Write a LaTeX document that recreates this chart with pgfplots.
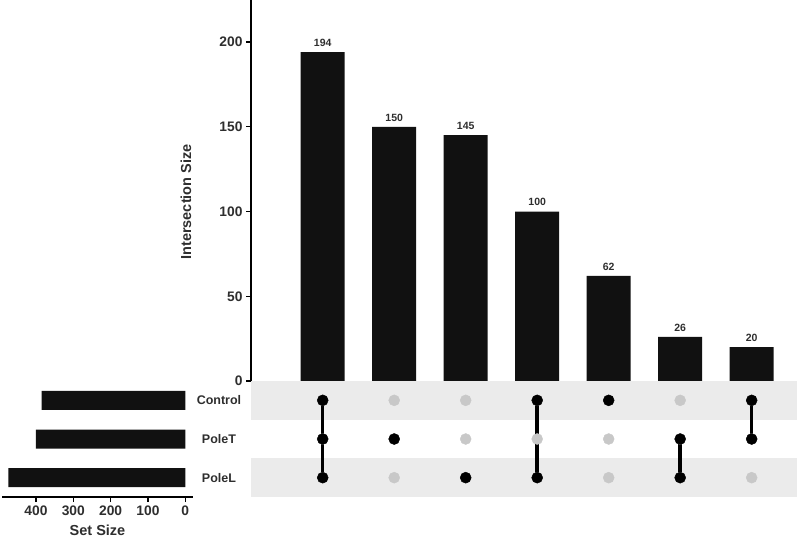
\documentclass[border=0pt]{standalone}
\usepackage{fontspec}
\setmainfont{Liberation Sans}
\usepackage{pgfplots}
\pgfplotsset{compat=1.18}
\definecolor{barblack}{HTML}{111111}
\definecolor{stripe}{HTML}{EBEBEB}
\definecolor{dotgray}{HTML}{C8C8C8}
\definecolor{txt}{HTML}{2E2E2E}
\newcommand\tickfont{\fontsize{13.8}{15}\selectfont\bfseries}
\newcommand\setfont{\fontsize{12.5}{14}\selectfont\bfseries}
\newcommand\titlefont{\fontsize{14.5}{16}\selectfont\bfseries}
\newcommand\numfont{\fontsize{10.5}{12}\selectfont\bfseries}
\begin{document}
\begin{tikzpicture}
\useasboundingbox (0pt,0pt) rectangle (797pt,-538pt);
% ---------- intersection size bars ----------
\begin{axis}[
  at={(251pt,-381pt)}, anchor=south west, scale only axis,
  width=546pt, height=381pt,
  xmin=-1.003, xmax=6.634, ymin=0, ymax=224.8,
  axis x line=none, axis y line*=left,
  y axis line style={line width=2pt, black},
  ytick={0,50,100,150,200},
  tick align=outside, major tick length=5pt,
  every tick/.style={black, line width=1.2pt},
  /pgf/number format/assume math mode=true,
  yticklabel style={font=\tickfont, text=txt},
  ylabel={Intersection Size},
  ylabel style={font=\titlefont, text=txt, at={(axis description cs:-0.119,0.47)}, anchor=center},
  ybar, bar width=44pt,
  clip=false,
]
\addplot[fill=barblack, draw=none,
  nodes near coords,
  nodes near coords style={font=\numfont, text=txt, yshift=2pt}]
  coordinates {(0,194) (1,150) (2,145) (3,100) (4,62) (5,26) (6,20)};
\end{axis}
% ---------- matrix ----------
\begin{axis}[
  at={(251pt,-497pt)}, anchor=south west, scale only axis,
  width=546pt, height=116pt,
  xmin=-1.003, xmax=6.634, ymin=0.5, ymax=3.5,
  axis line style={draw=none},
  xtick=\empty, ytick={1,2,3}, yticklabels={PoleL,PoleT,Control},
  major tick length=0pt,
  yticklabel style={anchor=center, xshift=-32pt, font=\setfont, text=txt},
  clip=false,
]
\fill[stripe] (axis cs:-1.003,2.5) rectangle (axis cs:6.634,3.5);
\fill[stripe] (axis cs:-1.003,0.5) rectangle (axis cs:6.634,1.5);
\addplot[only marks, mark=*, mark size=5.5pt, color=dotgray] coordinates {
 (0,1)(0,2)(0,3)(1,1)(1,2)(1,3)(2,1)(2,2)(2,3)(3,1)(3,2)(3,3)
 (4,1)(4,2)(4,3)(5,1)(5,2)(5,3)(6,1)(6,2)(6,3)};
\addplot[black, line width=3.5pt] coordinates {(0,1)(0,3)};
\addplot[black, line width=3.5pt] coordinates {(3,1)(3,3)};
\addplot[black, line width=3.5pt] coordinates {(5,1)(5,2)};
\addplot[black, line width=3.5pt] coordinates {(6,2)(6,3)};
\addplot[only marks, mark=*, mark size=5.5pt, color=black] coordinates {
 (0,1)(0,2)(0,3)(1,2)(2,1)(3,1)(3,3)(4,3)(5,1)(5,2)(6,2)(6,3)};
\end{axis}
% ---------- set size ----------
\begin{axis}[
  at={(2pt,-497pt)}, anchor=south west, scale only axis,
  width=191pt, height=116pt,
  x dir=reverse, xmin=-20.6, xmax=491, ymin=0.5, ymax=3.5,
  xbar, bar width=19pt,
  axis x line*=bottom, axis y line=none,
  x axis line style={line width=1.5pt, black},
  xtick={0,100,200,300,400},
  tick align=outside, major tick length=5pt,
  every tick/.style={black, line width=1.2pt},
  /pgf/number format/assume math mode=true,
  xticklabel style={font=\tickfont, text=txt},
  xlabel={Set Size},
  xlabel style={font=\titlefont, text=txt, at={(axis description cs:0.5,0)}, anchor=center, yshift=-33pt},
  clip=false,
]
\addplot[fill=barblack, draw=none] coordinates {(385,3) (400,2) (474,1)};
\end{axis}
\end{tikzpicture}
\end{document}
